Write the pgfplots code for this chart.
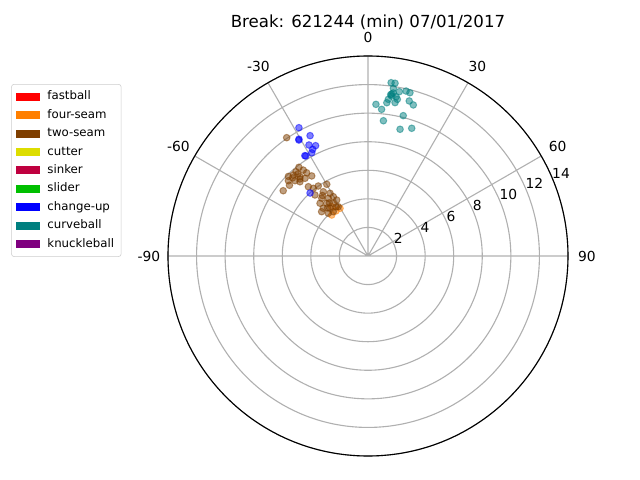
\documentclass[border=0pt]{standalone}
\usepackage{fontspec}
\setmainfont{DejaVu Sans}
\usepackage{pgfplots}
\pgfplotsset{compat=1.18}
\usepgfplotslibrary{polar}
\definecolor{cFast}{HTML}{FF0000}
\definecolor{cFour}{HTML}{FF7F00}
\definecolor{cTwo}{HTML}{7F3F00}
\definecolor{cCut}{HTML}{DDDD00}
\definecolor{cSink}{HTML}{BF003F}
\definecolor{cSlid}{HTML}{00BF00}
\definecolor{cChg}{HTML}{0000FF}
\definecolor{cCurve}{HTML}{007F7F}
\definecolor{cKnuck}{HTML}{7F007F}
\definecolor{gridgray}{HTML}{B0B0B0}
\pgfplotsset{pitch/.style={forget plot, only marks, mark=*, mark size=2.4pt, color=#1,
  mark options={fill opacity=0.5, draw opacity=0.5, line width=0.7pt}}}
\begin{document}
\begin{tikzpicture}
\begin{polaraxis}[
  scale only axis, width=4in, height=4in,
  clip=false,
  xmin=0, xmax=360, ymin=0, ymax=14,
  xtick={0,30,60,90,120,150,180},
  xticklabels={90,60,30,0,-30,-60,-90},
  xticklabel style={anchor=center, shift={(\tick:0.19in)}},
  ytick={2,4,6,8,10,12,14},
  yticklabels={},
  grid=major,
  major grid style={color=gridgray, line width=0.8pt},
  major tick length=0pt,
  axis line style={black, line width=0.8pt},
  y axis line style={draw=none},
  tick label style={font=\fontsize{10}{12}\selectfont},
  x filter/.expression={90-x},
  legend style={at={(-0.392,0.93)}, anchor=north west, draw=black!20, rounded corners=2pt, fill=white,
    font=\fontsize{8.5}{10}\selectfont, row sep=2.3pt, inner sep=0.05in,
    nodes={inner sep=0.02in, text height=6.3pt, text depth=1.8pt, anchor=west},
    /tikz/every odd column/.append style={column sep=0.05in}},
  legend cell align=left,
  legend image code/.code={\fill[#1, draw=none, sharp corners] (0in,-0.04in) rectangle (0.24in,0.04in);},
]
\addlegendimage{fill=cFast}\addlegendentry{fastball}
\addlegendimage{fill=cFour}\addlegendentry{four-seam}
\addlegendimage{fill=cTwo}\addlegendentry{two-seam}
\addlegendimage{fill=cCut}\addlegendentry{cutter}
\addlegendimage{fill=cSink}\addlegendentry{sinker}
\addlegendimage{fill=cSlid}\addlegendentry{slider}
\addlegendimage{fill=cChg}\addlegendentry{change-up}
\addlegendimage{fill=cCurve}\addlegendentry{curveball}
\addlegendimage{fill=cKnuck}\addlegendentry{knuckleball}

\addplot[pitch=cFour] coordinates {
(-36.4,4.29) (-30.4,3.87) (-41.5,3.83) (-35.4,3.87)
};
\addplot[pitch=cTwo] coordinates {
(-34.5,10.05) (-37.9,7.87) (-37.0,7.53) (-40.5,7.76) (-36.4,7.24) (-35.1,6.85) (-42.7,7.71)
(-40.6,7.31) (-39.0,7.00) (-46.6,7.67) (-44.1,7.34) (-42.5,7.05) (-52.4,7.49) (-40.7,6.40)
(-38.9,6.09) (-35.4,6.01) (-29.9,5.79) (-41.0,5.66) (-34.8,5.48) (-31.2,5.13) (-38.7,5.18)
(-34.5,4.90) (-30.3,4.81) (-29.2,4.49) (-42.3,4.99) (-38.1,4.69) (-33.4,4.42) (-43.1,4.58)
(-38.6,4.27) (-46.3,4.49) (-42.9,4.08) (-31.1,4.03) (-38.1,3.94) (-45.0,7.88) (-40.5,7.55)
(-41.5,7.20) (-37.0,5.30) (-36.0,4.60) (-40.0,4.40) (-33.0,4.10) (-44.0,7.60) (-48.0,7.40)
};
\addplot[pitch=cChg] coordinates {
(-28.3,10.20) (-25.7,9.35) (-30.8,9.45) (-30.6,9.50) (-28.0,8.80) (-25.4,8.55) (-27.4,8.41)
(-28.6,8.23) (-31.9,8.25) (-32.2,8.30) (-42.6,5.99)
};
\addplot[pitch=cCurve] coordinates {
(7.6,12.24) (8.9,12.24) (8.6,11.87) (10.8,11.71) (13.0,11.85) (14.4,11.80) (8.3,11.46)
(8.4,11.32) (8.0,11.40) (8.8,11.55) (10.0,11.32) (7.4,11.06) (10.6,11.16) (7.0,10.81)
(10.0,10.90) (14.9,11.23) (16.7,11.04) (3.0,10.63) (5.3,10.31) (14.1,10.13) (6.5,9.53)
(14.2,9.15) (18.9,9.45)
};
\coordinate (c) at (axis cs:0,0);
\node[font=\fontsize{12}{14}\selectfont, anchor=center, yshift=0.335in] at (axis cs:90,14) {Break: 621244 (min) 07/01/2017};
\node[font=\fontsize{10}{12}\selectfont, inner sep=0pt] at (axis cs:30.3,2.457) {2};
\node[font=\fontsize{10}{12}\selectfont, inner sep=0pt] at (axis cs:26.4,4.455) {4};
\node[font=\fontsize{10}{12}\selectfont, inner sep=0pt] at (axis cs:25.3,6.43) {6};
\node[font=\fontsize{10}{12}\selectfont, inner sep=0pt] at (axis cs:25.0,8.44) {8};
\node[font=\fontsize{10}{12}\selectfont, inner sep=0pt] at (axis cs:23.8,10.74) {10};
\node[font=\fontsize{10}{12}\selectfont, inner sep=0pt] at (axis cs:23.6,12.71) {12};
\node[font=\fontsize{10}{12}\selectfont, inner sep=0pt] at (axis cs:23.2,14.70) {14};
\end{polaraxis}
\pgfresetboundingbox
\path[use as bounding box] ([shift={(-3.68in,-2.24in)}]c) rectangle ([shift={(2.72in,2.56in)}]c);
\end{tikzpicture}
\end{document}
